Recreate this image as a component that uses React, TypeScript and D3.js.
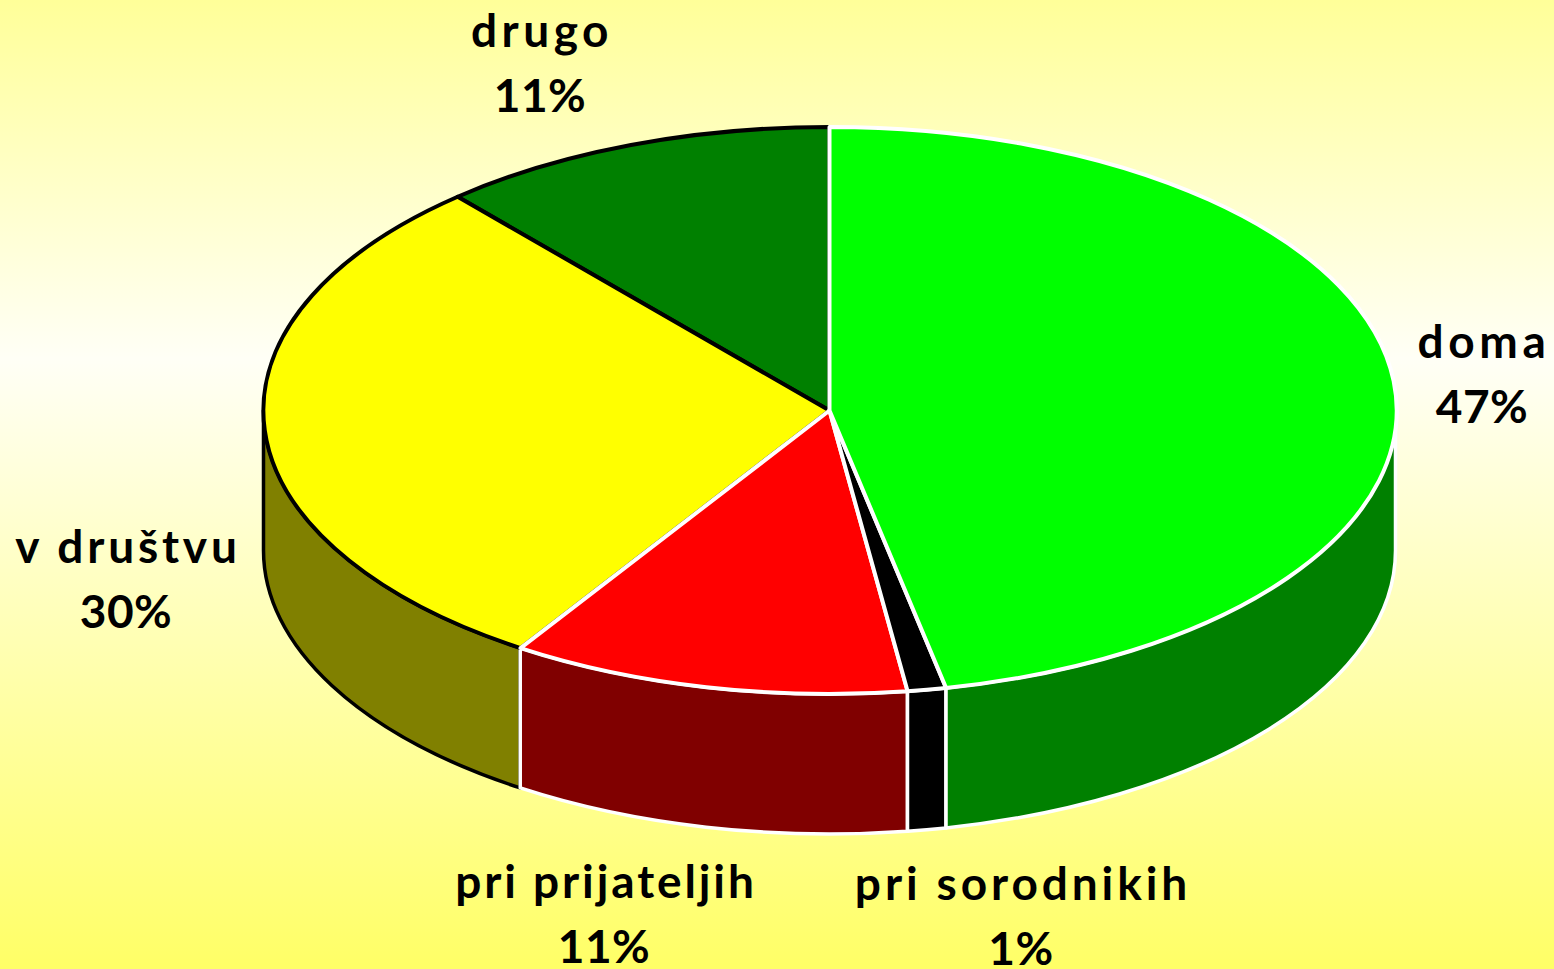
import React from "react";
import * as d3 from "d3";

const categories = ["doma", "pri sorodnikih", "pri prijateljih", "v društvu", "drugo"];
const shares = [46.7, 1.1, 11.4, 29.4, 11.4];
const percentLabels = ["47%", "1%", "11%", "30%", "11%"];
const topColors = ["#00ff00", "#000000", "#ff0000", "#ffff00", "#008000"];
const sideColors = ["#008000", "#000000", "#800000", "#808000", "#008000"];
const strokeColors = ["#ffffff", "#ffffff", "#ffffff", "#000000", "#000000"];

const width = 1554;
const height = 969;
const cx = 829.5;
const cy = 410.5;
const rx = 566;
const ry = 283.5;
const depth = 140;

// label centres, first line baseline, tracking of the name line
const labelX = [1484, 1023, 606, 128, 542];
const labelY = [358, 900, 898, 563, 47];
const labelTracking = [4.7, 3.9, 2.9, 3.8, 4.5];

const pieGen = d3
  .pie<number>()
  .sort(null)
  .value((d) => d);

const arcGen = d3.arc<d3.PieArcDatum<number>>().innerRadius(0).outerRadius(1);

const px = (a: number) => rx * Math.sin(a);
const py = (a: number) => -ry * Math.cos(a);

// outer wall of a slice, only the part that faces the viewer
function wallPath(start: number, end: number) {
  const a0 = Math.max(start, Math.PI / 2);
  const a1 = Math.min(end, (3 * Math.PI) / 2);
  if (a1 <= a0) return null;
  return (
    `M${px(a0)},${py(a0)}` +
    `A${rx},${ry} 0 0 1 ${px(a1)},${py(a1)}` +
    `L${px(a1)},${py(a1) + depth}` +
    `A${rx},${ry} 0 0 0 ${px(a0)},${py(a0) + depth}Z`
  );
}

export default function App() {
  const slices = pieGen(shares);
  // black outlined slices go first so the white lines stay on top
  const order = [4, 3, 2, 1, 0];

  return (
    <svg
      width={width}
      height={height}
      style={{ position: "absolute", left: 0, top: 0, display: "block" }}
    >
      <defs>
        <linearGradient id="bg" x1="0" y1="0" x2="0" y2="1">
          <stop offset="0" stopColor="#ffff99" />
          <stop offset="0.37" stopColor="#fffff6" />
          <stop offset="1" stopColor="#ffff66" />
        </linearGradient>
      </defs>
      <rect width={width} height={height} fill="url(#bg)" />

      <g transform={`translate(${cx},${cy})`} strokeLinejoin="round">
        {order.map((i) => {
          const d = wallPath(slices[i].startAngle, slices[i].endAngle);
          return d ? (
            <path key={i} d={d} fill={sideColors[i]} stroke={strokeColors[i]} strokeWidth={3.5} />
          ) : null;
        })}
        {order.map((i) => (
          <path
            key={i}
            d={arcGen(slices[i]) as string}
            transform={`scale(${rx},${ry})`}
            fill={topColors[i]}
            stroke={strokeColors[i]}
            strokeWidth={4}
            vectorEffect="non-scaling-stroke"
          />
        ))}
      </g>

      <g
        fontFamily="Lato, 'Open Sans', sans-serif"
        fontWeight={700}
        fontSize={46}
        textAnchor="middle"
        fill="#000000"
      >
        {categories.map((c, i) => (
          <g key={c}>
            <text x={labelX[i]} y={labelY[i]} letterSpacing={labelTracking[i]}>
              {c}
            </text>
            <text x={labelX[i] - 2} y={labelY[i] + 65} letterSpacing={0.5}>
              {percentLabels[i]}
            </text>
          </g>
        ))}
      </g>
    </svg>
  );
}
